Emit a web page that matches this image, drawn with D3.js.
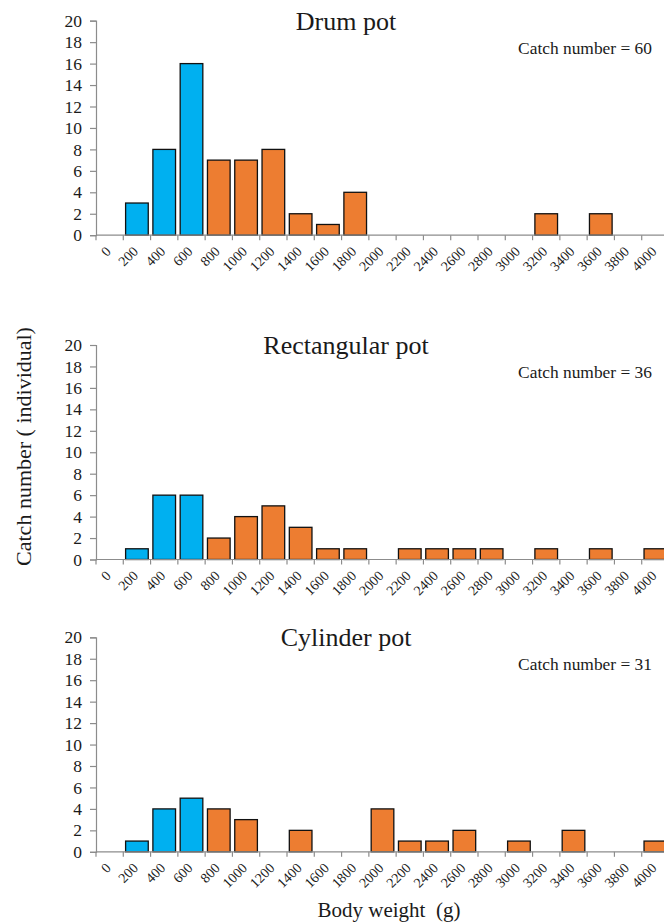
<!DOCTYPE html>
<html>
<head>
<meta charset="utf-8">
<script src="https://cdn.jsdelivr.net/npm/d3@7"></script>
<style>
  html, body { margin: 0; padding: 0; background: #fff; }
  svg { display: block; overflow: hidden; }
</style>
</head>
<body>
<div id="chart"></div>
<script>
// ---- data ----
const categories = ["0","200","400","600","800","1000","1200","1400","1600","1800","2000",
                    "2200","2400","2600","2800","3000","3200","3400","3600","3800","4000"];
const blueCategories = ["200","400","600"];
const panelTitles = ["Drum pot", "Rectangular pot", "Cylinder pot"];
const catchTotals = [60, 36, 31];
const drumValues        = [0,3,8,16,7,7,8,2,1,4,0,0,0,0,0,0,2,0,2,0,0];
const rectangularValues = [0,1,6,6,2,4,5,3,1,1,0,1,1,1,1,0,1,0,1,0,1];
const cylinderValues    = [0,1,4,5,4,3,0,2,0,0,4,1,1,2,0,1,0,2,0,0,1];
const yTicks = [0,2,4,6,8,10,12,14,16,18,20];
const yAxisTitle = "Catch number ( individual)";
const xAxisTitle = "Body weight\u00a0\u00a0(g)";

const seriesList = [drumValues, rectangularValues, cylinderValues];

// ---- layout ----
const W = 664, H = 924;
const left = 96, right = 669;
const panelTops = [20.7, 345, 637.3];
const panelH = 214.5;
const blue = "#00B0F0", orange = "#ED7D31";
const axisColor = "#8c8c8c";
const FONT = "'Liberation Serif', 'Times New Roman', Times, serif";
const TXT = "#1a1a1a";

const svg = d3.select("#chart").append("svg").attr("width", W).attr("height", H);

const x = d3.scaleBand().domain(categories).range([left, right])
  .paddingInner(0.17).paddingOuter(0.085);
const step = x.step();
const bw = x.bandwidth();

seriesList.forEach((vals, i) => {
  const top = panelTops[i];
  const y = d3.scaleLinear().domain([0, 20]).range([top + panelH, top]);
  const g = svg.append("g");
  const y0 = y(0);

  // bars
  g.selectAll("rect").data(categories.map((c, j) => ({c, v: vals[j]})).filter(d => d.v > 0))
    .join("rect")
    .attr("x", d => x(d.c))
    .attr("y", d => y(d.v))
    .attr("width", bw)
    .attr("height", d => y0 - y(d.v))
    .attr("fill", d => blueCategories.includes(d.c) ? blue : orange)
    .attr("stroke", "#111")
    .attr("stroke-width", 1.3);

  // y axis
  const ya = g.append("g").attr("transform", `translate(${left},0)`)
    .call(d3.axisLeft(y).tickValues(yTicks).tickSize(6).tickPadding(8));
  ya.attr("font-family", null).attr("font-size", null);
  ya.select(".domain").attr("stroke", axisColor).attr("stroke-width", 1.2);
  ya.selectAll(".tick line").attr("stroke", axisColor).attr("stroke-width", 1.2);
  ya.selectAll(".tick text").style("font-size", "17.5px").style("fill", TXT)
    .style("font-family", FONT);

  // x axis baseline
  g.append("line").attr("x1", left).attr("x2", right).attr("y1", y0).attr("y2", y0)
    .attr("stroke", axisColor).attr("stroke-width", 1.2);
  // ticks at category boundaries
  const bounds = categories.map(c => x(c) - (step - bw) / 2)
    .concat([x(categories[categories.length-1]) + bw + (step - bw) / 2]);
  g.selectAll("line.xt").data(bounds).join("line").attr("class", "xt")
    .attr("x1", d => d).attr("x2", d => d).attr("y1", y0).attr("y2", y0 + 5)
    .attr("stroke", axisColor).attr("stroke-width", 1.2);
  // labels
  g.selectAll("text.xl").data(categories).join("text").attr("class", "xl")
    .attr("transform", c => `translate(${x(c) + bw / 2 + 2},${y0 + 17}) rotate(-45)`)
    .attr("text-anchor", "end")
    .style("font-family", FONT).style("font-size", "14px").style("fill", TXT)
    .text(c => c);

  // title
  g.append("text").attr("x", 346).attr("y", top + 8.8)
    .attr("text-anchor", "middle")
    .style("font-family", FONT).style("font-size", "26px").style("fill", TXT)
    .text(panelTitles[i]);
  // catch number
  g.append("text").attr("x", 652).attr("y", top + 33)
    .attr("text-anchor", "end")
    .style("font-family", FONT).style("font-size", "17.4px").style("fill", TXT)
    .text("Catch number = " + catchTotals[i]);
});

// axis titles
svg.append("text")
  .attr("transform", `translate(31,446.5) rotate(-90)`)
  .attr("text-anchor", "middle")
  .style("font-family", FONT).style("font-size", "22px").style("fill", TXT)
  .text(yAxisTitle);
svg.append("text").attr("x", 389).attr("y", 917)
  .attr("text-anchor", "middle")
  .style("font-family", FONT).style("font-size", "21px").style("fill", TXT)
  .text(xAxisTitle);
</script>
</body>
</html>
